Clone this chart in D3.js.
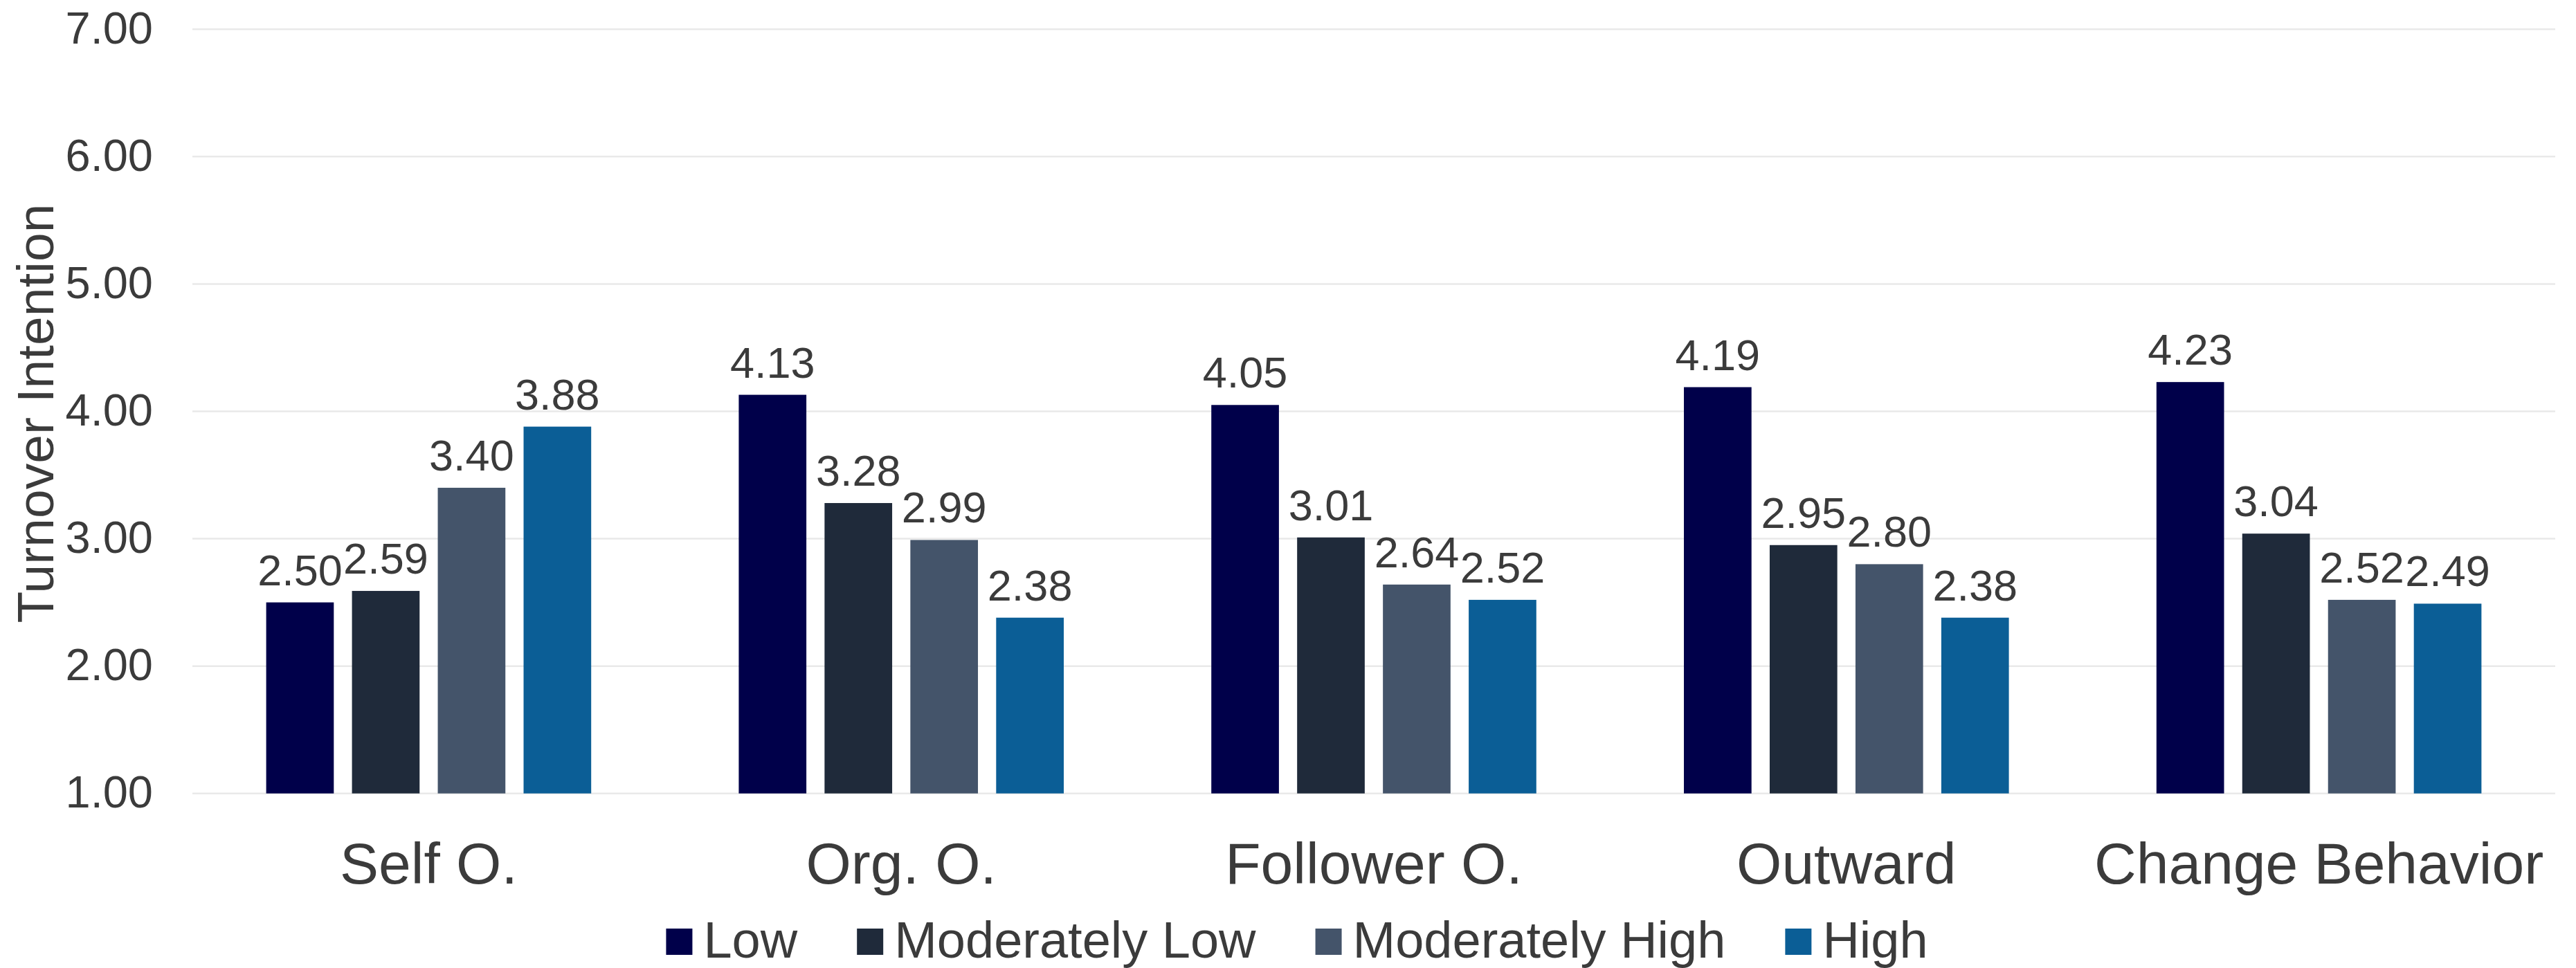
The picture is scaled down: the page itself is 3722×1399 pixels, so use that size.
<!DOCTYPE html>
<html>
<head>
<meta charset="utf-8">
<script src="https://cdn.jsdelivr.net/npm/d3@7"></script>
<style>
  html, body { margin: 0; padding: 0; background: #ffffff; }
  svg { display: block; }
  text { font-family: "Liberation Sans", Arial, sans-serif; fill: #3b3b3b; }
</style>
</head>
<body>
<script>
// Chart data
const categories = ["Self O.", "Org. O.", "Follower O.", "Outward", "Change Behavior"];
const seriesNames = ["Low", "Moderately Low", "Moderately High", "High"];
const lowValues = [2.50, 4.13, 4.05, 4.19, 4.23];
const modLowValues = [2.59, 3.28, 3.01, 2.95, 3.04];
const modHighValues = [3.40, 2.99, 2.64, 2.80, 2.52];
const highValues = [3.88, 2.38, 2.52, 2.38, 2.49];
const yTicks = [1, 2, 3, 4, 5, 6, 7];
const yTitle = "Turnover Intention";

const seriesValues = [lowValues, modLowValues, modHighValues, highValues];
const colors = ["#00004a", "#1f2a3a", "#44546a", "#0b5e96"];

const W = 3722, H = 1399;
const plot = { left: 278, right: 3692, top: 42.3, bottom: 1146.7 };

const svg = d3.select("body").append("svg")
  .attr("width", W).attr("height", H);

const x0 = d3.scaleBand()
  .domain(categories)
  .range([plot.left, plot.right])
  .paddingInner(0).paddingOuter(0);

const x1 = d3.scaleBand()
  .domain(seriesNames)
  .range([0, x0.bandwidth()])
  .paddingInner(0.212)
  .paddingOuter(0.86);

const y = d3.scaleLinear()
  .domain([1, 7])
  .range([plot.bottom, plot.top]);

// Horizontal gridlines
svg.append("g")
  .selectAll("line")
  .data(yTicks)
  .join("line")
  .attr("x1", plot.left).attr("x2", plot.right)
  .attr("y1", d => y(d)).attr("y2", d => y(d))
  .attr("stroke", "#e9e9e9")
  .attr("stroke-width", 2.5);

// Y axis tick labels
const yAxis = d3.axisLeft(y)
  .tickValues(yTicks)
  .tickFormat(d3.format(".2f"))
  .tickSize(0)
  .tickPadding(0);

const yAxisG = svg.append("g")
  .attr("transform", `translate(221,0)`)
  .call(yAxis);
yAxisG.select(".domain").remove();
yAxisG.selectAll("text")
  .attr("font-size", 65)
  .attr("font-family", "Liberation Sans, Arial, sans-serif")
  .attr("fill", "#3b3b3b")
  .attr("dy", "0.31em");

// Y axis title
svg.append("text")
  .attr("transform", `translate(77,${(plot.top + plot.bottom) / 2 + 3}) rotate(-90)`)
  .attr("text-anchor", "middle")
  .attr("font-size", 75)
  .text(yTitle);

// Bars
const rows = categories.map((c, i) => ({
  category: c,
  items: seriesNames.map((s, j) => ({ series: s, value: seriesValues[j][i], color: colors[j] }))
}));

const groups = svg.append("g")
  .selectAll("g")
  .data(rows)
  .join("g")
  .attr("transform", d => `translate(${x0(d.category)},0)`);

groups.selectAll("rect")
  .data(d => d.items)
  .join("rect")
  .attr("x", d => x1(d.series))
  .attr("width", x1.bandwidth())
  .attr("y", d => y(d.value))
  .attr("height", d => y(1) - y(d.value))
  .attr("fill", d => d.color);

// Value labels above bars
groups.selectAll("text.val")
  .data(d => d.items)
  .join("text")
  .attr("class", "val")
  .attr("x", d => x1(d.series) + x1.bandwidth() / 2)
  .attr("y", d => y(d.value) - 25)
  .attr("text-anchor", "middle")
  .attr("font-size", 63)
  .text(d => d3.format(".2f")(d.value));

// Category axis labels
const xAxis = d3.axisBottom(x0).tickSize(0).tickPadding(0);
const xAxisG = svg.append("g")
  .attr("transform", `translate(0,${plot.bottom})`)
  .call(xAxis);
xAxisG.select(".domain").remove();
xAxisG.selectAll("text")
  .attr("font-size", 84)
  .attr("font-family", "Liberation Sans, Arial, sans-serif")
  .attr("fill", "#3b3b3b")
  .attr("dy", 0)
  .attr("y", 130);

// Legend
const legend = svg.append("g");
const sq = 38, sqGap = 16, itemGap = 86;
const legendItems = legend.selectAll("g")
  .data(seriesNames.map((s, j) => ({ name: s, color: colors[j] })))
  .join("g");
legendItems.append("rect")
  .attr("width", sq).attr("height", sq)
  .attr("y", 1342)
  .attr("fill", d => d.color);
legendItems.append("text")
  .attr("x", sq + sqGap)
  .attr("y", 1384)
  .attr("font-size", 74)
  .text(d => d.name);

const widths = [];
legendItems.each(function() {
  const tw = d3.select(this).select("text").node().getComputedTextLength();
  widths.push(sq + sqGap + tw);
});
const total = d3.sum(widths) + itemGap * (widths.length - 1);
let start = 1874 - total / 2;
legendItems.attr("transform", (d, i) => {
  const tx = start;
  start += widths[i] + itemGap;
  return `translate(${tx},0)`;
});
</script>
</body>
</html>
